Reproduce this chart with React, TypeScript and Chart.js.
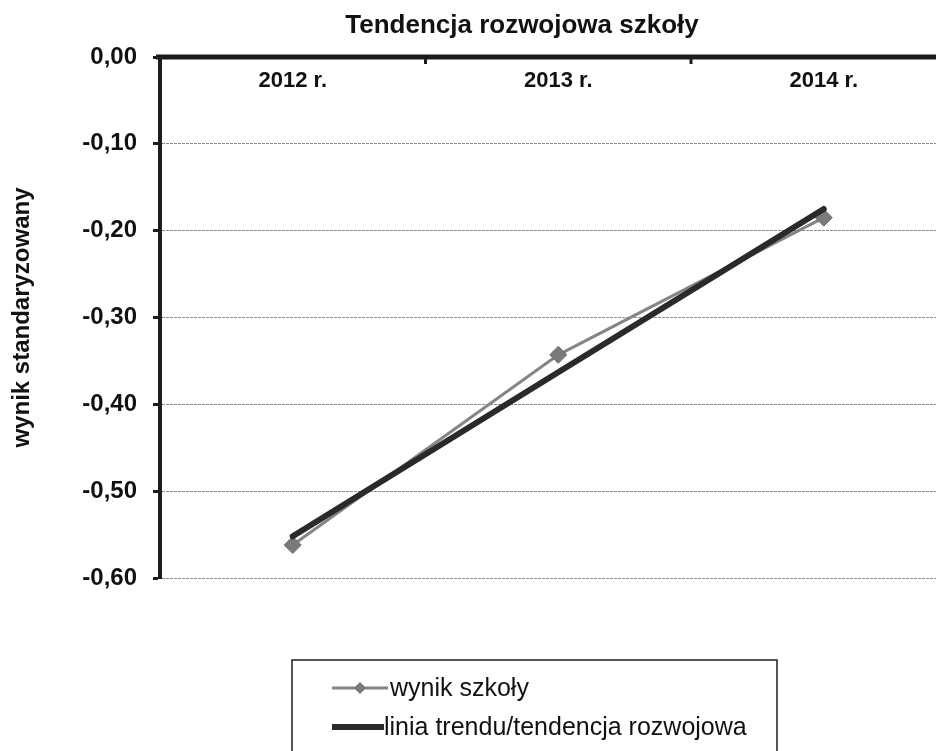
import React, { useEffect, useRef } from 'react';
import { Chart, registerables } from 'chart.js';

Chart.register(...registerables);

const categories = ['2012 r.', '2013 r.', '2014 r.'];
const wynikSzkoly = [-0.562, -0.343, -0.185];
const liniaTrendu = [-0.552, -0.363, -0.175];
const yMin = -0.6;
const yMax = 0;
const yStep = 0.1;
const chartTitle = 'Tendencja rozwojowa szkoły';
const yTitle = 'wynik standaryzowany';
const seriesNames = ['wynik szkoły', 'linia trendu/tendencja rozwojowa'];

const FONT = '"Liberation Sans", Arial, Helvetica, sans-serif';
const DARK = '#1c1c1c';
const SERIES_GRAY = '#858585';
const MARKER_GRAY = '#7a7a7a';
const TREND = '#2a2a2a';

const overlayPlugin = {
  id: 'overlay',
  afterDraw(chart: any) {
    const { ctx, chartArea, scales } = chart;
    const x = scales.x;
    ctx.save();
    // chart title
    ctx.font = `bold 26px ${FONT}`;
    ctx.fillStyle = '#111';
    ctx.textAlign = 'center';
    ctx.textBaseline = 'middle';
    ctx.fillText(chartTitle, 514, 18);

    // top axis line
    ctx.strokeStyle = DARK;
    ctx.lineWidth = 5;
    ctx.beginPath();
    ctx.moveTo(chartArea.left - 4, chartArea.top);
    ctx.lineTo(chartArea.right + 2, chartArea.top);
    ctx.stroke();
    // category boundary tick marks (pointing down)
    const step = x.getPixelForValue(1) - x.getPixelForValue(0);
    ctx.lineWidth = 3;
    for (let i = 0; i < categories.length; i++) {
      const px = x.getPixelForValue(i) + step / 2;
      ctx.beginPath();
      ctx.moveTo(px, chartArea.top);
      ctx.lineTo(px, chartArea.top + 7);
      ctx.stroke();
    }
    // category labels just below the top axis
    ctx.font = `bold 22px ${FONT}`;
    ctx.fillStyle = '#111';
    categories.forEach((c, i) => {
      ctx.fillText(c, x.getPixelForValue(i), chartArea.top + 24);
    });

    // legend box
    const boxLeft = 284;
    const boxTop = chartArea.bottom + 82;
    const boxRight = 769;
    const boxBottom = chart.height + 20;
    ctx.strokeStyle = DARK;
    ctx.lineWidth = 1.5;
    ctx.strokeRect(boxLeft, boxTop, boxRight - boxLeft, boxBottom - boxTop);

    ctx.font = `25px ${FONT}`;
    ctx.textAlign = 'left';
    // item 1
    const y1 = chartArea.bottom + 110;
    ctx.strokeStyle = SERIES_GRAY;
    ctx.lineWidth = 3;
    ctx.beginPath();
    ctx.moveTo(324, y1);
    ctx.lineTo(380, y1);
    ctx.stroke();
    ctx.fillStyle = MARKER_GRAY;
    ctx.beginPath();
    ctx.moveTo(352, y1 - 6);
    ctx.lineTo(358, y1);
    ctx.lineTo(352, y1 + 6);
    ctx.lineTo(346, y1);
    ctx.closePath();
    ctx.fill();
    ctx.fillStyle = '#111';
    ctx.fillText(seriesNames[0], 382, y1 + 1);
    // item 2
    const y2 = chartArea.bottom + 149;
    ctx.strokeStyle = TREND;
    ctx.lineWidth = 6;
    ctx.beginPath();
    ctx.moveTo(324, y2);
    ctx.lineTo(376, y2);
    ctx.stroke();
    ctx.fillText(seriesNames[1], 376, y2 + 1);
    ctx.restore();
  },
};

export default function App() {
  const canvasRef = useRef<HTMLCanvasElement | null>(null);

  useEffect(() => {
    const canvas = canvasRef.current;
    if (!canvas) return;
    const chart = new Chart(canvas, {
      type: 'line',
      data: {
        labels: categories,
        datasets: [
          {
            label: seriesNames[0],
            data: wynikSzkoly,
            borderColor: SERIES_GRAY,
            borderWidth: 3,
            pointStyle: 'rectRot',
            pointRadius: 8.5,
            pointBackgroundColor: MARKER_GRAY,
            pointBorderColor: '#6a6a6a',
            pointBorderWidth: 1,
            tension: 0,
            order: 1,
          },
          {
            label: seriesNames[1],
            data: liniaTrendu,
            borderColor: TREND,
            borderWidth: 6,
            pointRadius: 0,
            tension: 0,
            borderCapStyle: 'round',
            order: 0,
          },
        ],
      },
      options: {
        animation: false,
        responsive: true,
        maintainAspectRatio: false,
        events: [],
        layout: { padding: { top: 49, right: 78.5, bottom: 173, left: 0 } },
        plugins: {
          legend: { display: false },
          tooltip: { enabled: false },
          title: { display: false },
        },
        scales: {
          x: {
            type: 'category',
            display: false,
            offset: true,
          },
          y: {
            min: yMin,
            max: yMax,
            ticks: {
              stepSize: yStep,
              color: '#111',
              padding: 16,
              font: { family: FONT, size: 24, weight: 'bold' },
              callback: (v: any) => Number(v).toFixed(2).replace('.', ','),
            },
            grid: {
              color: '#8a8a8a',
              lineWidth: 1,
              tickColor: DARK,
              tickWidth: 3,
              tickLength: 7,
            },
            border: { color: DARK, width: 4, dash: [3, 1] },
            title: {
              display: true,
              text: yTitle,
              color: '#111',
              font: { family: FONT, size: 24, weight: 'bold' },
              padding: 0,
            },
            afterFit: (scale: any) => {
              scale.width = 152;
            },
          },
        },
      },
      plugins: [overlayPlugin],
    } as any);
    return () => chart.destroy();
  }, []);

  return (
    <div style={{ width: 936, height: 743, overflow: 'hidden' }}>
      <div style={{ width: 1027, height: 743, position: 'relative' }}>
        <canvas ref={canvasRef} />
      </div>
    </div>
  );
}
